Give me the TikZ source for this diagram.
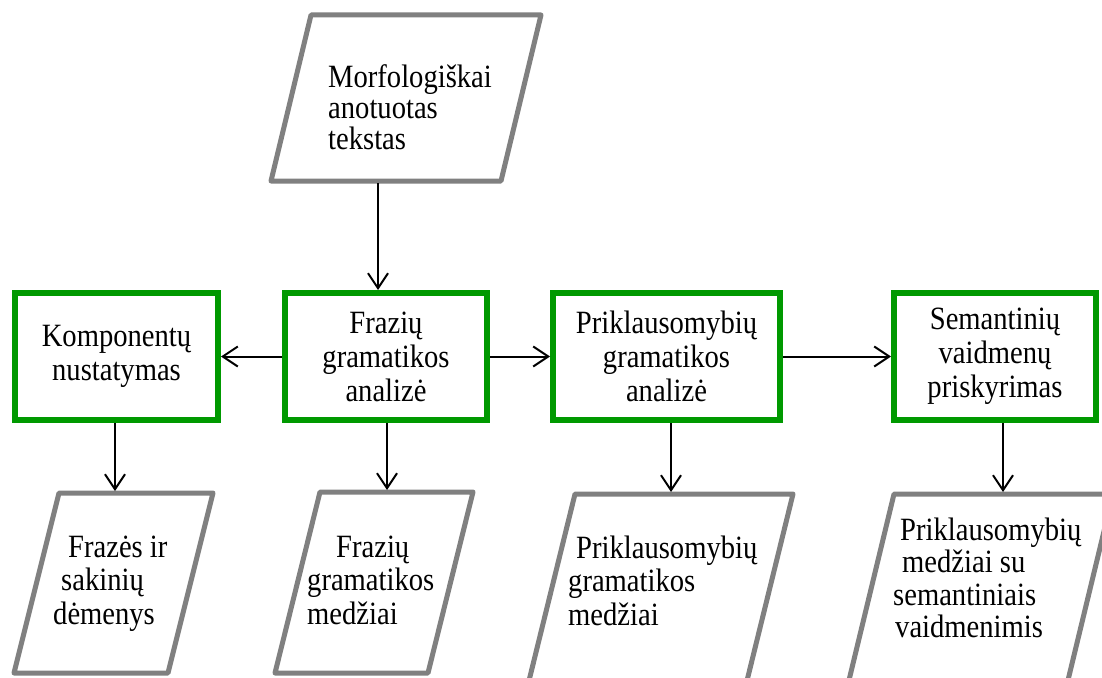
\documentclass[tikz,border=0pt]{standalone}
\usepackage{fontspec}
\setmainfont{Liberation Serif}[FakeStretch=0.88]
\usetikzlibrary{arrows.meta}
\definecolor{boxgreen}{RGB}{0,153,0}
\definecolor{edgegray}{RGB}{128,128,128}
\begin{document}
\begin{tikzpicture}[x=1pt,y=-1pt,
  txt/.style={inner sep=0pt, font=\fontsize{32.5}{33.5}\selectfont},
  stage/.style={draw=boxgreen, line width=6pt, fill=white, inner sep=0pt,
    minimum height=127pt, align=center, font=\fontsize{32.5}{34}\selectfont},
  datashape/.style={draw=edgegray, line width=5pt, line join=round, fill=white},
  flow/.style={draw=black, line width=2pt, -{Straight Barb[length=15pt,width=20pt]}}
]
\clip (0,0) rectangle (1102,677);
\fill[white] (0,0) rectangle (1102,677);

% input data
\draw[datashape] (311,15) -- (541,15) -- (501,181) -- (271,181) -- cycle;
\coordinate (p0out) at (378,183);
\node[txt, anchor=base west] (t0) at (328,87)
  {\vtop{\baselineskip=31pt\hbox{Morfologiškai}\hbox{anotuotas}\hbox{tekstas}}};

% processing stages
\node[stage, minimum width=203pt] (b1) at (116.5,356.5) {Komponentų\\nustatymas};
\node[stage, minimum width=202pt] (b2) at (386,356.5) {Frazių\\gramatikos\\analizė};
\node[stage, minimum width=227pt] (b3) at (666.5,356.5) {Priklausomybių\\gramatikos\\analizė};
\node[stage, minimum width=202pt] (b4) at (995,356.5) {Semantinių\\vaidmenų\\priskyrimas};

% output data
\draw[datashape] (59,493) -- (213,493) -- (168,673) -- (14,673) -- cycle;
\coordinate (p1in) at (115,491);
\node[txt, anchor=base west] (t1) at (53,557)
  {\vtop{\hbox{\hskip15pt Frazės ir}\hbox{\hskip8pt sakinių}\hbox{dėmenys}}};

\draw[datashape] (320,492) -- (473,492) -- (428,673) -- (275,673) -- cycle;
\coordinate (p2in) at (387,490);
\node[txt, anchor=base west] (t2) at (307,557)
  {\vtop{\hbox{\hskip29pt Frazių}\hbox{gramatikos}\hbox{medžiai}}};

\draw[datashape] (575,494) -- (793,494) -- (741,705) -- (523,705) -- cycle;
\coordinate (p3in) at (671,492);
\node[txt, anchor=base west] (t3) at (568,558)
  {\vtop{\hbox{\hskip8pt Priklausomybių}\hbox{gramatikos}\hbox{medžiai}}};

\draw[datashape] (894,494) -- (1113,494) -- (1062,705) -- (843,705) -- cycle;
\coordinate (p4in) at (1003,492);
\node[txt, anchor=base west] (t4) at (893,540)
  {\vtop{\baselineskip=32.5pt\hbox{\hskip7pt Priklausomybių}\hbox{\hskip9pt medžiai su}\hbox{semantiniais}\hbox{\hskip2pt vaidmenimis}}};

% connectors
\draw[flow] (p0out) -- (p0out |- b2.north);
\draw[flow] (b2.west) -- (b1.east);
\draw[flow] (b2.east) -- (b3.west);
\draw[flow] (b3.east) -- (b4.west);
\draw[flow] (b1.south -| p1in) -- (p1in);
\draw[flow] (b2.south -| p2in) -- (p2in);
\draw[flow] (b3.south -| p3in) -- (p3in);
\draw[flow] (b4.south -| p4in) -- (p4in);
\end{tikzpicture}
\end{document}
